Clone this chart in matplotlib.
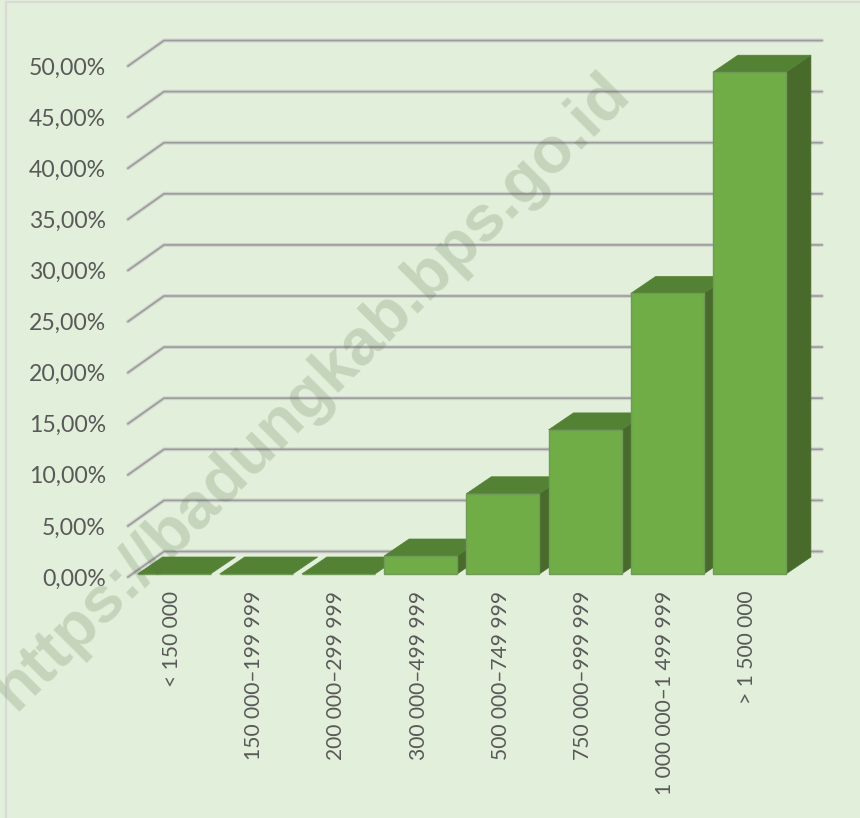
import numpy as np
import matplotlib.pyplot as plt

# data
categories = ["< 150 000", "150 000–199 999", "200 000–299 999", "300 000–499 999",
              "500 000–749 999", "750 000–999 999", "1 000 000–1 499 999", "> 1 500 000"]
values = [0.0, 0.0, 0.0, 1.76, 7.85, 14.1, 27.45, 49.1]
yticks = [0, 5, 10, 15, 20, 25, 30, 35, 40, 45, 50]
ylabels = ["0,00%", "5,00%", "10,00%", "15,00%", "20,00%", "25,00%",
           "30,00%", "35,00%", "40,00%", "45,00%", "50,00%"]

W, H = 860, 818
bg = "#e2efda"
front = "#70ad47"
top = "#548235"
side = "#486b2c"
txt = "#595959"

plt.rcParams["font.family"] = ["Lato", "DejaVu Sans"]

fig = plt.figure(figsize=(W / 100, H / 100), dpi=100, facecolor=bg)

# plot area in pixels: front plane of the fake 3d box
left, right, y0, y50 = 128, 786, 577, 66
ax = fig.add_axes([left / W, 1 - y0 / H, (right - left) / W, (y0 - y50) / H])
ax.set_facecolor("none")
for s in ax.spines.values():
    s.set_visible(False)

xs = 82.2  # px per category
ys = (y0 - y50) / 50  # px per percent
ax.set_xlim((left - 175) / xs, (right - 175) / xs)
ax.set_ylim(0, 50)

# gridlines run to the back wall, then across
gx, gy = 36 / xs, 25.5 / ys
xa = ax.get_xlim()[0]
xend = xa + (822 - left) / xs
for t in yticks:
    px = [xa, xa + gx, xend]
    py = [t, t + gy, t + gy]
    ax.plot(px, py, color="#cfd3cd", lw=2.8, clip_on=False, zorder=1, solid_capstyle="round")
    ax.plot(px, py, color="#9c9c9c", lw=1.2, clip_on=False, zorder=1.1)

# bars: front face with ax.bar, top and side faces with ax.fill
x = np.arange(len(values))
bw = 73 / xs
base = 3 / ys
dx, dy = 25 / xs, 17 / ys
ax.bar(x - 1 / xs, values, width=bw, bottom=base, color=front, edgecolor="#6f9a58", lw=1, zorder=3, clip_on=False)
for i, v in zip(x, values):
    x0, x1 = i - 1 / xs - bw / 2, i - 1 / xs + bw / 2
    yt = v + base
    ax.fill([x0, x1, x1 + dx, x0 + dx], [yt, yt, yt + dy, yt + dy], color=top, lw=0.5, zorder=2.9, clip_on=False)
    if v > 0:
        ax.fill([x1, x1 + dx, x1 + dx, x1], [base, base + dy, yt + dy, yt], color=side, lw=0.5, zorder=2.8, clip_on=False)

ax.set_yticks(yticks, ylabels, fontsize=16.6, color=txt)
ax.set_xticks(x - 3 / xs, categories, rotation=90, fontsize=15.1, color=txt, ha="center", va="top")
ax.tick_params(axis="y", length=0, pad=16)
ax.tick_params(axis="x", length=0, pad=10)

# border of the original chart box, only left and top show
fig.add_artist(plt.Line2D([5.5 / W, 5.5 / W], [0, 1 - 2 / H], color="#d9d9d9", lw=1.6))
fig.add_artist(plt.Line2D([5.5 / W, 1], [1 - 2 / H, 1 - 2 / H], color="#d9d9d9", lw=1.6))

# watermark on top of all
fig.text(312 / W, 1 - 392 / H, "https://badungkab.bps.go.id", fontsize=47, fontweight="bold",
         family="Liberation Sans", color="#4f6b45", alpha=0.2, rotation=45,
         rotation_mode="anchor", ha="center", va="center", zorder=10)

fig.savefig("out.png", dpi=100, facecolor=bg)
